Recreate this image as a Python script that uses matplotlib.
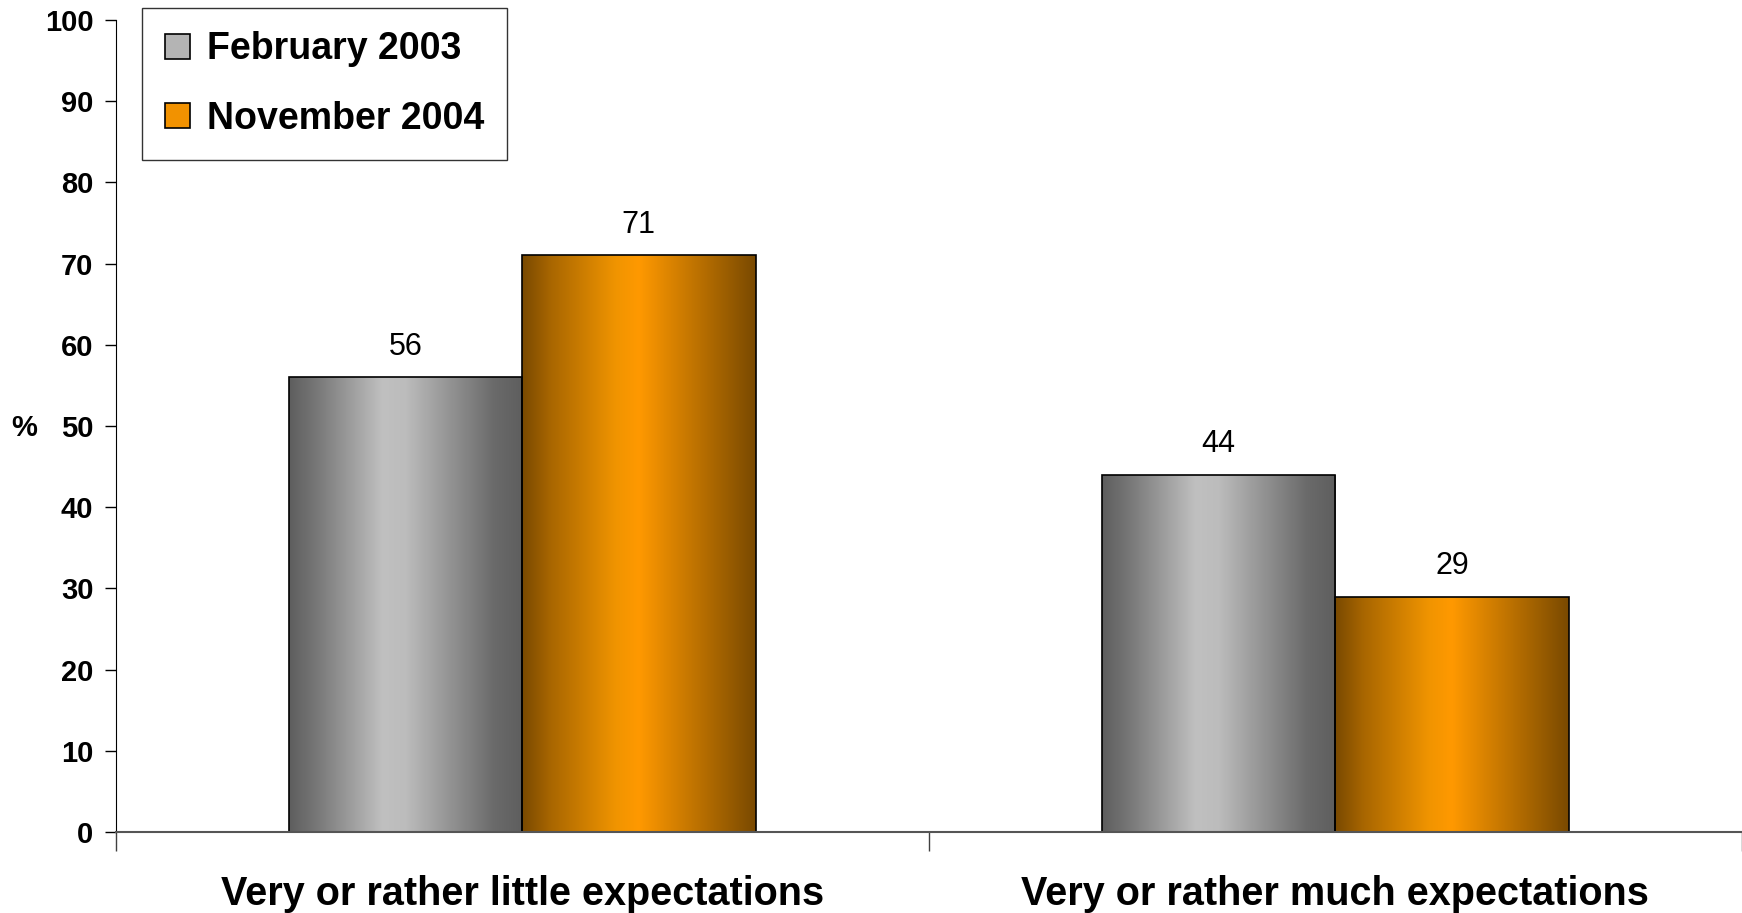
import numpy as np
import matplotlib
matplotlib.use("Agg")
import matplotlib.pyplot as plt
from matplotlib.patches import Rectangle
from matplotlib.colors import LinearSegmentedColormap

plt.rcParams['font.family'] = ['Liberation Sans', 'DejaVu Sans']

categories = ["Very or rather little expectations", "Very or rather much expectations"]
series = ["February 2003", "November 2004"]
feb_2003 = [56, 44]
nov_2004 = [71, 29]

# cylinder-like horizontal shading for each series
shade_pos = [0.0, 0.12, 0.4, 0.5, 0.88, 1.0]
gray_cmap = LinearSegmentedColormap.from_list(
    "gray_bar", list(zip(shade_pos, ["#5e5e5e", "#787878", "#c0c0c0", "#bcbcbc", "#6a6a6a", "#5e5e5e"])))
orange_cmap = LinearSegmentedColormap.from_list(
    "orange_bar", list(zip(shade_pos, ["#794900", "#a86600", "#f09400", "#ff9900", "#9a5d00", "#794900"])))

fig = plt.figure(figsize=(17.42, 9.13), dpi=100)
ax = fig.add_axes([115.5 / 1742, 1 - 832 / 913, 1 - 115.5 / 1742, (832 - 20) / 913])

width = 0.287
x = np.arange(len(categories))
grad = np.linspace(0, 1, 256).reshape(1, -1)


def shaded_bars(xpos, values, cmap, color, label):
    bars = ax.bar(xpos, values, width, color=color, edgecolor="black",
                  linewidth=1.2, label=label, zorder=3)
    for b in bars:
        b.set_facecolor("none")
        x0, w, h = b.get_x(), b.get_width(), b.get_height()
        im = ax.imshow(grad, cmap=cmap, aspect="auto", extent=[x0, x0 + w, 0, h],
                       zorder=2, interpolation="bicubic")
        im.set_clip_path(b)
        ax.text(x0 + w / 2, h + 1.9, f"{h:g}", ha="center", va="bottom",
                fontsize=22, color="black")
    return bars


shaded_bars(x - width / 2, feb_2003, gray_cmap, "#c0c0c0", series[0])
shaded_bars(x + width / 2, nov_2004, orange_cmap, "#ff9900", series[1])

ax.set_xlim(-0.5, 1.5)
ax.set_ylim(0, 100)
ax.set_yticks(range(0, 101, 10))
ax.tick_params(axis="y", labelsize=21, length=8, width=1, pad=8)
for t in ax.get_yticklabels():
    t.set_fontweight("bold")

ax.set_xticks([-0.5, 0.5, 1.5], minor=False)
ax.set_xticklabels([])
ax.tick_params(axis="x", length=14, width=1, direction="out", colors="#404040")
ax.set_xticks(x, minor=True)
ax.set_xticklabels(categories, minor=True, fontsize=28.5, fontweight="bold")
ax.tick_params(axis="x", which="minor", length=0, pad=31)

ax.spines["top"].set_visible(False)
ax.spines["right"].set_visible(False)
ax.spines["bottom"].set_color("#555555")
ax.spines["bottom"].set_linewidth(1.5)
ax.spines["bottom"].set_zorder(4)

fig.text(24 / 1742, 1 - 428 / 913, "%", fontsize=21, fontweight="bold", ha="center", va="center")

handles = [Rectangle((0, 0), 1, 1, facecolor="#b4b4b4", edgecolor="black", linewidth=1.2),
           Rectangle((0, 0), 1, 1, facecolor="#f29200", edgecolor="black", linewidth=1.2)]
leg = ax.legend(handles, series, loc="upper left", bbox_to_anchor=(142 / 1742, 1 - 8 / 913),
                bbox_transform=fig.transFigure, prop={"weight": "bold", "size": 27},
                frameon=True, fancybox=False, edgecolor="black", handlelength=0.65,
                handleheight=0.65, handletextpad=0.45, labelspacing=0.9, borderpad=0.62,
                borderaxespad=0)
leg.get_frame().set_linewidth(1)

fig.savefig("out.png", dpi=100)
